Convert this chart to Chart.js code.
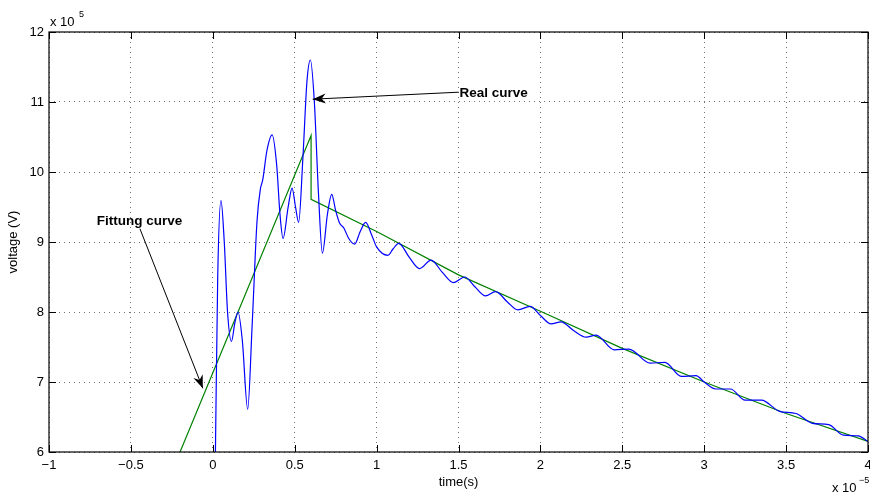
<!DOCTYPE html>
<html>
<head>
<meta charset="utf-8">
<script src="https://cdn.jsdelivr.net/npm/chart.js@4"></script>
<style>
  html, body { margin: 0; padding: 0; background: #fff; }
  #wrap { width: 870px; height: 494px; }
</style>
</head>
<body>
<div id="wrap"><canvas id="voltage"></canvas></div>
<script>
// time in units of 1e-5 s, voltage in units of 1e5 V
const realTime = [0.016, 0.03, 0.05, 0.07, 0.09, 0.114, 0.135, 0.154, 0.18, 0.213,
  0.24, 0.27, 0.29, 0.305, 0.33, 0.362, 0.39, 0.41, 0.429, 0.46,
  0.484, 0.505, 0.524, 0.55, 0.575, 0.596, 0.62, 0.645, 0.669, 0.70,
  0.726, 0.75, 0.774, 0.80, 0.83, 0.866, 0.90, 0.933, 0.97, 1.0,
  1.069, 1.1, 1.135, 1.2, 1.262, 1.333, 1.40, 1.47, 1.537, 1.60,
  1.665, 1.726, 1.80, 1.862, 1.937, 2.0, 2.065, 2.126, 2.20, 2.28,
  2.34, 2.45, 2.54, 2.67, 2.76, 2.86, 2.95, 3.0, 3.07, 3.16,
  3.25, 3.35, 3.46, 3.56, 3.66, 3.76, 3.85, 3.94, 4.0];
const realVoltage = [6.0, 8.5, 9.59, 9.0, 8.0, 7.58, 7.85, 8.0, 7.6, 6.61,
  7.8, 9.3, 9.75, 9.89, 10.3, 10.53, 10.1, 9.4, 9.05, 9.5,
  9.77, 9.5, 9.28, 10.2, 11.3, 11.6, 11.0, 9.7, 8.84, 9.4,
  9.68, 9.45, 9.27, 9.2, 9.05, 8.97, 9.15, 9.28, 9.1, 8.93,
  8.81, 8.9, 8.98, 8.78, 8.62, 8.74, 8.57, 8.42, 8.50, 8.36,
  8.23, 8.29, 8.14, 8.03, 8.08, 7.95, 7.83, 7.86, 7.74, 7.64,
  7.67, 7.46, 7.47, 7.27, 7.28, 7.08, 7.09, 7.0, 6.90, 6.90,
  6.74, 6.74, 6.58, 6.55, 6.41, 6.39, 6.24, 6.23, 6.15];

const fitTime = [-0.2, 0.6, 0.6, 1.0, 1.5, 2.0, 2.5, 3.0, 3.5, 4.0];
const fitVoltage = [6.0, 10.52, 9.61, 9.15, 8.53, 8.01, 7.48, 7.0, 6.55, 6.15];

const xTicks = [-1, -0.5, 0, 0.5, 1, 1.5, 2, 2.5, 3, 3.5, 4];
const yTicks = [6, 7, 8, 9, 10, 11, 12];

const toPoints = (xs, ys) => xs.map((x, i) => ({ x: x, y: ys[i] }));
const fmt = v => {
  const r = Math.round(v * 10) / 10;
  return r < 0 ? '\u2212' + Math.abs(r) : String(r);
};

const FONT = 'Helvetica, "Liberation Sans", Arial, sans-serif';

// frame, inward tick marks, exponent labels and arrows
const decorations = {
  id: 'decorations',
  afterDraw(chart) {
    const { ctx, chartArea: a } = chart;
    const xs = chart.scales.x, ys = chart.scales.y;
    ctx.save();
    ctx.strokeStyle = '#000';
    ctx.lineWidth = 1.2;
    ctx.strokeRect(a.left, a.top, a.right - a.left, a.bottom - a.top);
    ctx.lineWidth = 1;
    const tl = 7;
    ctx.beginPath();
    xTicks.forEach(t => {
      const px = Math.round(xs.getPixelForValue(t)) + 0.5;
      ctx.moveTo(px, a.bottom); ctx.lineTo(px, a.bottom - tl);
      ctx.moveTo(px, a.top); ctx.lineTo(px, a.top + tl);
    });
    yTicks.forEach(t => {
      const py = Math.round(ys.getPixelForValue(t)) + 0.5;
      ctx.moveTo(a.left, py); ctx.lineTo(a.left + tl, py);
      ctx.moveTo(a.right, py); ctx.lineTo(a.right - tl, py);
    });
    ctx.stroke();

    // exponents
    ctx.fillStyle = '#000';
    ctx.textBaseline = 'alphabetic';
    ctx.textAlign = 'left';
    ctx.font = '13px ' + FONT;
    ctx.fillText('x 10', a.left + 1, a.top - 6);
    ctx.font = '9px ' + FONT;
    ctx.fillText('5', a.left + 30, a.top - 15);
    ctx.font = '13px ' + FONT;
    ctx.fillText('x 10', a.right - 36, a.bottom + 40);
    ctx.font = '9px ' + FONT;
    ctx.fillText('\u22125', a.right - 9, a.bottom + 31);

    // labels with arrows
    const arrow = (x1, y1, x2, y2) => {
      const p1 = [xs.getPixelForValue(x1), ys.getPixelForValue(y1)];
      const p2 = [xs.getPixelForValue(x2), ys.getPixelForValue(y2)];
      const ang = Math.atan2(p2[1] - p1[1], p2[0] - p1[0]);
      ctx.beginPath();
      ctx.moveTo(p1[0], p1[1]);
      ctx.lineTo(p2[0], p2[1]);
      ctx.lineWidth = 1;
      ctx.stroke();
      const L = 13, W = 5;
      const bx = p2[0] - L * Math.cos(ang), by = p2[1] - L * Math.sin(ang);
      const nx = -Math.sin(ang), ny = Math.cos(ang);
      ctx.beginPath();
      ctx.moveTo(p2[0], p2[1]);
      ctx.lineTo(bx + nx * W, by + ny * W);
      ctx.lineTo(p2[0] - 9 * Math.cos(ang), p2[1] - 9 * Math.sin(ang));
      ctx.lineTo(bx - nx * W, by - ny * W);
      ctx.closePath();
      ctx.fill();
    };
    arrow(1.5, 11.14, 0.61, 11.04);
    arrow(-0.445, 9.19, -0.061, 6.91);

    ctx.font = 'bold 13.5px ' + FONT;
    ctx.textBaseline = 'middle';
    ctx.textAlign = 'left';
    ctx.fillText('Real curve', xs.getPixelForValue(1.506), ys.getPixelForValue(11.13));
    ctx.textAlign = 'center';
    ctx.fillText('Fittung curve', xs.getPixelForValue(-0.448), ys.getPixelForValue(9.3));
    ctx.restore();
  }
};

new Chart(document.getElementById('voltage'), {
  type: 'scatter',
  data: {
    datasets: [{
      label: 'Real curve',
      data: toPoints(realTime, realVoltage),
      showLine: true,
      borderColor: '#0000ff',
      borderWidth: 1.2,
      pointRadius: 0,
      cubicInterpolationMode: 'monotone'
    }, {
      label: 'Fitting curve',
      data: toPoints(fitTime, fitVoltage),
      showLine: true,
      borderColor: '#008000',
      borderWidth: 1.2,
      pointRadius: 0,
      tension: 0
    }]
  },
  options: {
    responsive: true,
    maintainAspectRatio: false,
    animation: false,
    layout: { padding: { top: 32, right: 2, left: 0, bottom: 0 } },
    plugins: { legend: { display: false }, tooltip: { enabled: false } },
    scales: {
      x: {
        type: 'linear',
        min: -1, max: 4,
        afterFit: s => { s.height = 42; s.paddingRight = 0; s.paddingLeft = 0; },
        afterBuildTicks: s => { s.ticks = xTicks.map(v => ({ value: v })); },
        ticks: { callback: fmt, color: '#000', padding: 6, maxRotation: 0,
                 font: { family: FONT, size: 13 } },
        grid: { color: 'rgba(0,0,0,0.55)', lineWidth: 1, drawTicks: false },
        border: { display: false, dash: [1, 4] },
        title: { display: true, text: 'time(s)', color: '#000',
                 font: { family: FONT, size: 13 }, padding: { top: 0, bottom: 4 } }
      },
      y: {
        type: 'linear',
        min: 6, max: 12,
        afterFit: s => { s.width = 49; },
        afterBuildTicks: s => { s.ticks = yTicks.map(v => ({ value: v })); },
        ticks: { callback: fmt, color: '#000', padding: 5,
                 font: { family: FONT, size: 13 } },
        grid: { color: 'rgba(0,0,0,0.55)', lineWidth: 1, drawTicks: false },
        border: { display: false, dash: [1, 4] },
        title: { display: true, text: 'voltage (V)', color: '#000',
                 font: { family: FONT, size: 13 }, padding: { top: 6, bottom: 0 } }
      }
    }
  },
  plugins: [decorations]
});
</script>
</body>
</html>
